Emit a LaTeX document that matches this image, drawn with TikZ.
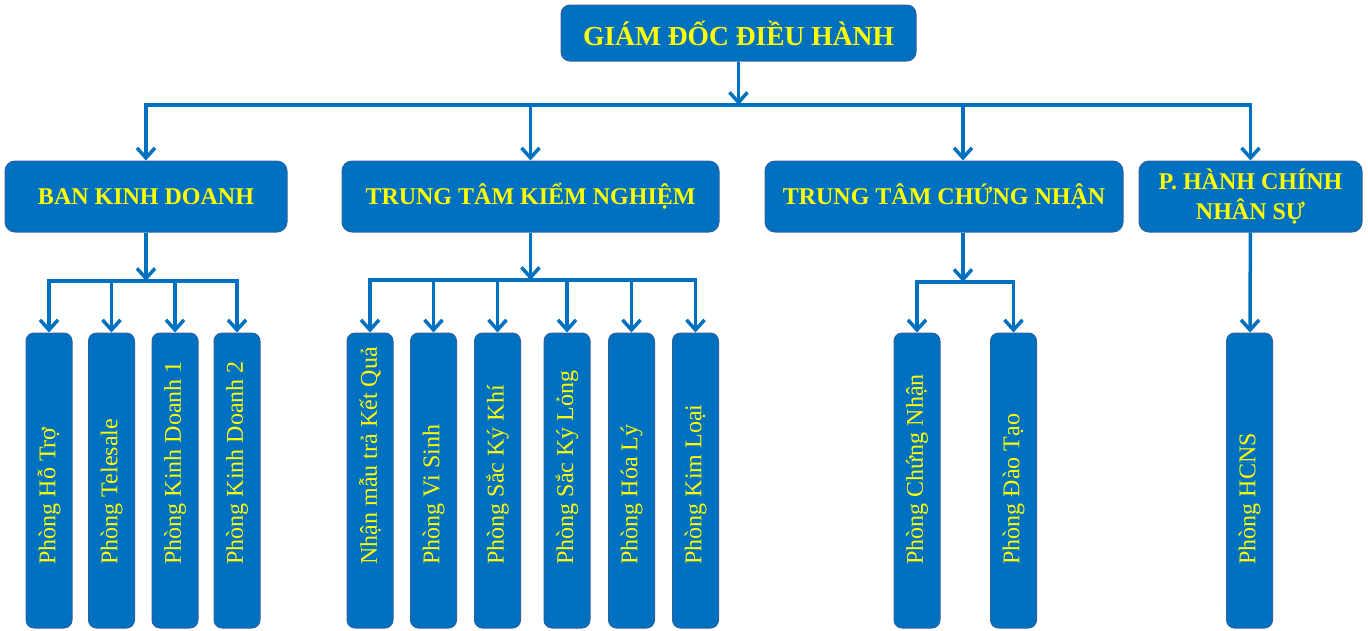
\documentclass[tikz,border=0pt]{standalone}
\usepackage{fontspec}
\setmainfont{Liberation Serif}
\usetikzlibrary{arrows.meta}
\definecolor{boxblue}{HTML}{0070C0}
\definecolor{rimblue}{HTML}{2F62A0}
\definecolor{labelyellow}{HTML}{FFFF00}
\newcommand{\roomtext}[1]{\makebox[168pt][l]{#1}}

\begin{document}
\begin{tikzpicture}[x=1pt,y=-1pt,>={Straight Barb[length=10pt,width=18pt]},
  link/.style={->,draw=boxblue,line width=3.5pt},
  top node/.style={rectangle,rounded corners=9pt,fill=boxblue,draw=rimblue,line width=1pt,
    text=labelyellow,font=\fontsize{27.5}{32}\selectfont\bfseries,minimum height=56pt,inner sep=0pt},
  unit node/.style={rectangle,rounded corners=10pt,fill=boxblue,draw=rimblue,line width=1pt,
    text=labelyellow,font=\fontsize{24}{30}\selectfont\bfseries,minimum height=71pt,align=center,inner sep=0pt},
  room node/.style={rectangle,rounded corners=8pt,fill=boxblue,draw=rimblue,line width=1pt,
    text=labelyellow,font=\fontsize{24}{28}\selectfont,rotate=90,minimum width=295pt,minimum height=46pt,inner sep=0pt}]

  \useasboundingbox (0,0) rectangle (1368,630);

  % top
  \node[top node,minimum width=355pt] (gd) at (738.5,33) {GIÁM ĐỐC ĐIỀU HÀNH};

  % units
  \node[unit node,minimum width=282pt] (bkd) at (146,196.5) {BAN KINH DOANH};
  \node[unit node,minimum width=377pt] (ttkn) at (530.5,196.5) {TRUNG TÂM KIỂM NGHIỆM};
  \node[unit node,minimum width=358pt] (ttcn) at (944,196.5) {TRUNG TÂM CHỨNG NHẬN};
  \node[unit node,minimum width=223pt] (hcns) at (1250.5,196.5) {P. HÀNH CHÍNH\\NHÂN SỰ};

  % rooms
  \node[room node] (kd1) at (49,480.5) {\roomtext{Phòng Hỗ Trợ}};
  \node[room node] (kd2) at (111.5,480.5) {\roomtext{Phòng Telesale}};
  \node[room node] (kd3) at (175,480.5) {\roomtext{Phòng Kinh Doanh 1}};
  \node[room node] (kd4) at (237,480.5) {\roomtext{Phòng Kinh Doanh 2}};

  \node[room node] (kn1) at (370,480.5) {\roomtext{Nhận mẫu trả Kết Quả}};
  \node[room node] (kn2) at (433.5,480.5) {\roomtext{Phòng Vi Sinh}};
  \node[room node] (kn3) at (497.5,480.5) {\roomtext{Phòng Sắc Ký Khí}};
  \node[room node] (kn4) at (567,480.5) {\roomtext{Phòng Sắc Ký Lỏng}};
  \node[room node] (kn5) at (631.5,480.5) {\roomtext{Phòng Hóa Lý}};
  \node[room node] (kn6) at (695.5,480.5) {\roomtext{Phòng Kim Loại}};

  \node[room node] (cn1) at (917,480.5) {\roomtext{Phòng Chứng Nhận}};
  \node[room node] (cn2) at (1013.5,480.5) {\roomtext{Phòng Đào Tạo}};

  \node[room node] (hc1) at (1249.5,480.5) {\roomtext{Phòng HCNS}};

  % buses
  \coordinate (top bus) at (0,105);
  \coordinate (kd bus) at (0,281);
  \coordinate (kn bus) at (0,280);
  \coordinate (cn bus) at (0,282);
  \coordinate (cn drop) at ([xshift=19pt]ttcn.south);

  \draw[link] (gd) -- (gd |- top bus);
  \draw[link,<->] (bkd) -- (bkd |- top bus) -- (hcns |- top bus) -- (hcns);
  \draw[link] (ttkn |- top bus) -- (ttkn);
  \draw[link] (cn drop |- top bus) -- ([xshift=19pt]ttcn.north);

  \draw[link] (bkd) -- (bkd |- kd bus);
  \draw[link,<->] (kd1) -- (kd1 |- kd bus) -- (kd4 |- kd bus) -- (kd4);
  \draw[link] (kd2 |- kd bus) -- (kd2);
  \draw[link] (kd3 |- kd bus) -- (kd3);

  \draw[link] (ttkn) -- (ttkn |- kn bus);
  \draw[link,<->] (kn1) -- (kn1 |- kn bus) -- (kn6 |- kn bus) -- (kn6);
  \draw[link] (kn2 |- kn bus) -- (kn2);
  \draw[link] (kn3 |- kn bus) -- (kn3);
  \draw[link] (kn4 |- kn bus) -- (kn4);
  \draw[link] (kn5 |- kn bus) -- (kn5);

  \draw[link] (cn drop) -- (cn drop |- cn bus);
  \draw[link,<->] (cn1) -- (cn1 |- cn bus) -- (cn2 |- cn bus) -- (cn2);

  \draw[link] (hcns) -- (hc1);
\end{tikzpicture}
\end{document}
